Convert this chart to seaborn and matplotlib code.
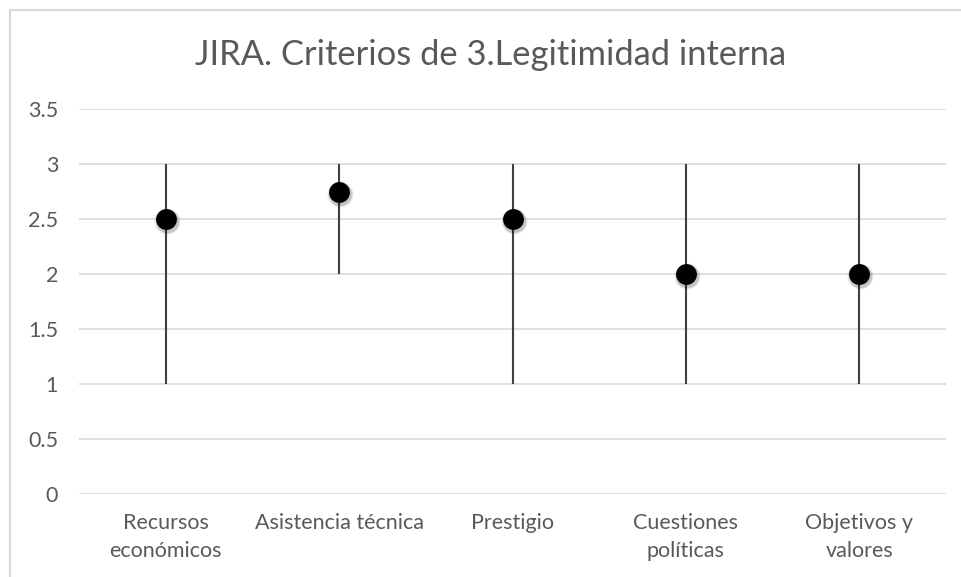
import numpy as np
import pandas as pd
import matplotlib
matplotlib.use("Agg")
import matplotlib.pyplot as plt
import seaborn as sns
from matplotlib.patches import Rectangle

# datos
categorias = ["Recursos\neconómicos", "Asistencia técnica", "Prestigio",
              "Cuestiones\npolíticas", "Objetivos y\nvalores"]
maximos = [3, 3, 3, 3, 3]
minimos = [1, 2, 1, 1, 1]
medias = [2.5, 2.75, 2.5, 2, 2]
yticks = [0, 0.5, 1, 1.5, 2, 2.5, 3, 3.5]
ytick_labels = ["0", "0.5", "1", "1.5", "2", "2.5", "3", "3.5"]

def main():
    sns.set_theme(style="white")
    plt.rcParams["font.family"] = ["Lato", "DejaVu Sans"]

    df = pd.DataFrame({"criterio": categorias, "max": maximos,
                       "min": minimos, "media": medias})

    fig = plt.figure(figsize=(9.62, 5.77), dpi=100)
    ax = fig.add_axes([79 / 962, 1 - 494 / 577, 867 / 962, 385 / 577])

    # borde del área del gráfico (estilo Excel)
    fig.patches.append(Rectangle((9.5 / 962, -0.1), 1.2, 1 - 9.5 / 577 + 0.1,
                                 transform=fig.transFigure, fill=False,
                                 edgecolor="#d9d9d9", linewidth=1.5))

    pos = np.arange(len(df))
    ax.vlines(pos, df["min"], df["max"], color="#404040", linewidth=1.5, zorder=2)

    # sombra suave de los marcadores
    for i, a in [(2.6, 0.05), (1.8, 0.08), (1.0, 0.12)]:
        ax.scatter(pos + 0.006, df["media"] - 0.02, s=(21 + i * 2) ** 2 * 0.52,
                   color="black", alpha=a, linewidths=0, zorder=3)

    sns.scatterplot(data=df, x="criterio", y="media", ax=ax, color="black",
                    s=225, edgecolor="black", linewidth=0, zorder=4, legend=False)

    ax.set_xlim(-0.5, len(df) - 0.5)
    ax.set_ylim(0, 3.5)
    ax.set_yticks(yticks)
    ax.set_yticklabels(ytick_labels)
    ax.set_xticks(pos)
    ax.set_xticklabels(categorias, linespacing=1.45)
    ax.grid(axis="y", color="#d9d9d9", linewidth=1.2, zorder=0)
    ax.set_axisbelow(True)
    for s in ax.spines.values():
        s.set_visible(False)
    ax.tick_params(axis="both", length=0, labelsize=15.5, labelcolor="#595959")
    ax.tick_params(axis="y", pad=15)
    ax.tick_params(axis="x", pad=14)
    ax.set_xlabel("")
    ax.set_ylabel("")

    fig.text(491 / 962, 1 - 55 / 577, "JIRA. Criterios de 3.Legitimidad interna",
             ha="center", va="center", fontsize=24.8, color="#595959",
             fontweight="normal")

    fig.savefig("out.png", dpi=100)

if __name__ == "__main__":
    main()
